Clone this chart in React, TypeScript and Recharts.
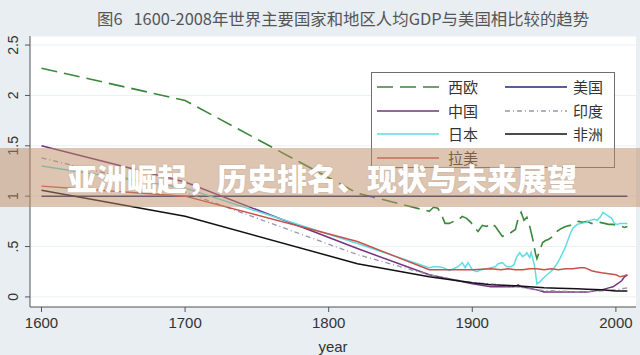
import { CartesianGrid, Legend, Line, LineChart, XAxis, YAxis } from 'recharts';

const xTicks = [1600, 1700, 1800, 1900, 2000];
const yTicks = [0, 0.5, 1, 1.5, 2, 2.5];
const yTickLabels = ['0', '.5', '1', '1.5', '2', '2.5'];

const westEuropeYears = [1600, 1700, 1820, 1870, 1873, 1876, 1879, 1881, 1884, 1887, 1890, 1893, 1896, 1899, 1902, 1904, 1907, 1910, 1913, 1916, 1918, 1921, 1924, 1927, 1930, 1932, 1934, 1936, 1938, 1940, 1942, 1944, 1945, 1947, 1949, 1951, 1953, 1956, 1959, 1962, 1965, 1968, 1971, 1974, 1977, 1980, 1983, 1986, 1989, 1992, 1995, 1998, 2001, 2004, 2006, 2008];
const westEuropeValues = [2.27, 1.95, 1.03, 0.85, 0.89, 0.88, 0.8, 0.73, 0.73, 0.75, 0.76, 0.8, 0.78, 0.74, 0.68, 0.65, 0.71, 0.7, 0.73, 0.7, 0.66, 0.6, 0.63, 0.64, 0.67, 0.78, 0.84, 0.76, 0.79, 0.7, 0.58, 0.43, 0.38, 0.46, 0.54, 0.56, 0.57, 0.6, 0.65, 0.68, 0.7, 0.71, 0.73, 0.75, 0.74, 0.75, 0.73, 0.73, 0.74, 0.73, 0.72, 0.72, 0.71, 0.7, 0.69, 0.7];

const usYears = [1600, 2008];
const usValues = [1, 1];

const chinaYears = [1600, 1700, 1820, 1870, 1880, 1890, 1900, 1913, 1920, 1929, 1932, 1934, 1938, 1945, 1950, 1955, 1960, 1965, 1970, 1975, 1980, 1985, 1990, 1995, 1998, 2001, 2004, 2006, 2008];
const chinaValues = [1.5, 1.14, 0.48, 0.22, 0.19, 0.16, 0.13, 0.1, 0.1, 0.1, 0.12, 0.1, 0.09, 0.07, 0.05, 0.05, 0.05, 0.05, 0.05, 0.05, 0.05, 0.06, 0.07, 0.09, 0.1, 0.13, 0.16, 0.2, 0.22];

const indiaYears = [1600, 1700, 1820, 1870, 1900, 1913, 1930, 1945, 1950, 1960, 1970, 1980, 1990, 2000, 2008];
const indiaValues = [1.38, 1.04, 0.42, 0.22, 0.14, 0.13, 0.1, 0.07, 0.065, 0.06, 0.05, 0.05, 0.06, 0.07, 0.09];

const japanYears = [1600, 1700, 1820, 1870, 1873, 1876, 1880, 1884, 1887, 1890, 1893, 1895, 1897, 1900, 1903, 1906, 1910, 1913, 1916, 1918, 1921, 1924, 1927, 1929, 1931, 1933, 1935, 1937, 1938, 1940, 1941, 1943, 1944, 1945, 1947, 1949, 1952, 1956, 1959, 1961, 1963, 1965, 1968, 1970, 1973, 1976, 1979, 1982, 1985, 1987, 1989, 1991, 1993, 1995, 1997, 1999, 2001, 2003, 2005, 2008];
const japanValues = [1.3, 1.08, 0.53, 0.29, 0.3, 0.3, 0.29, 0.26, 0.28, 0.3, 0.34, 0.29, 0.34, 0.27, 0.25, 0.27, 0.28, 0.29, 0.3, 0.33, 0.34, 0.3, 0.3, 0.32, 0.4, 0.44, 0.4, 0.42, 0.44, 0.39, 0.44, 0.33, 0.24, 0.13, 0.15, 0.18, 0.22, 0.27, 0.33, 0.38, 0.44, 0.5, 0.62, 0.68, 0.72, 0.73, 0.74, 0.76, 0.77, 0.76, 0.79, 0.84, 0.82, 0.8, 0.78, 0.73, 0.72, 0.73, 0.73, 0.73];

const africaYears = [1600, 1700, 1820, 1870, 1880, 1890, 1900, 1913, 1930, 1940, 1950, 1960, 1973, 1980, 1990, 2000, 2008];
const africaValues = [1.06, 0.8, 0.33, 0.2, 0.18, 0.16, 0.14, 0.12, 0.11, 0.1, 0.09, 0.085, 0.08, 0.075, 0.07, 0.06, 0.06];

const latinYears = [1600, 1700, 1820, 1870, 1880, 1890, 1900, 1913, 1920, 1925, 1930, 1935, 1940, 1945, 1950, 1955, 1960, 1965, 1970, 1975, 1978, 1980, 1983, 1986, 1990, 1995, 2000, 2003, 2006, 2008];
const latinValues = [1.1, 1.0, 0.55, 0.27, 0.27, 0.27, 0.27, 0.28, 0.27, 0.28, 0.27, 0.27, 0.28, 0.28, 0.27, 0.28, 0.27, 0.28, 0.28, 0.29, 0.29, 0.28, 0.26, 0.25, 0.24, 0.23, 0.22, 0.2, 0.21, 0.22];

const toPoints = (years: number[], values: number[]) => years.map((year, i) => ({ year, value: values[i] }));

// stata order: legend fills row by row
const series = [
  { name: '西欧', data: toPoints(westEuropeYears, westEuropeValues), color: '#3b873b', dash: '16 7', width: 1.6 },
  { name: '美国', data: toPoints(usYears, usValues), color: '#1c2a78', dash: undefined, width: 1.4 },
  { name: '中国', data: toPoints(chinaYears, chinaValues), color: '#74337f', dash: undefined, width: 1.5 },
  { name: '印度', data: toPoints(indiaYears, indiaValues), color: '#9c94ad', dash: '5 3 1 3', width: 1.3 },
  { name: '日本', data: toPoints(japanYears, japanValues), color: '#5fdde3', dash: undefined, width: 1.5 },
  { name: '非洲', data: toPoints(africaYears, africaValues), color: '#111111', dash: undefined, width: 1.5 },
  { name: '拉美', data: toPoints(latinYears, latinValues), color: '#c8504b', dash: undefined, width: 1.4 },
];

const axisFont = '"Liberation Sans", Arial, sans-serif';
const cjkFont = '"Noto Sans CJK SC", "Noto Sans", sans-serif';

const YTick = ({ y, payload }: any) => (
  <text
    x={13}
    y={y}
    transform={`rotate(-90 13 ${y})`}
    textAnchor="middle"
    dominantBaseline="central"
    fontSize={14}
    fontFamily={axisFont}
    fill="#333"
  >
    {yTickLabels[yTicks.indexOf(payload.value)]}
  </text>
);

const LegendBox = () => (
  <div
    style={{
      position: 'relative',
      width: 244,
      height: 96,
      boxSizing: 'border-box',
      border: '1px solid #6f6f6f',
      background: '#fff',
      fontFamily: cjkFont,
      fontSize: 15,
      color: '#333',
    }}
  >
    {series.map((s, i) => {
      const col = i % 2;
      const row = Math.floor(i / 2);
      const top = [14, 38, 61, 85][row];
      const lineLeft = col === 0 ? 5 : 133;
      const textLeft = col === 0 ? 76 : 201;
      return (
        <div key={s.name}>
          <svg style={{ position: 'absolute', left: lineLeft, top: top - 3 }} width={62} height={6}>
            <line x1={0} x2={62} y1={3} y2={3} stroke={s.color} strokeWidth={1.4} strokeDasharray={s.dash} />
          </svg>
          <span style={{ position: 'absolute', left: textLeft, top: top - 11, lineHeight: '22px' }}>{s.name}</span>
        </div>
      );
    })}
  </div>
);

export default function App() {
  return (
    <div
      style={{
        position: 'absolute',
        left: 0,
        top: 0,
        width: 640,
        height: 355,
        background: '#e8eef1',
        overflow: 'hidden',
      }}
    >
      <div
        style={{
          position: 'absolute',
          left: 97,
          top: 6,
          fontFamily: cjkFont,
          fontSize: 16.4,
          color: '#555',
          whiteSpace: 'pre',
        }}
      >
        {'图6   1600-2008年世界主要国家和地区人均GDP与美国相比较的趋势'}
      </div>
      <LineChart width={640} height={355} margin={{ top: 36, right: 4, left: 0, bottom: 0 }}>
        <CartesianGrid vertical={false} stroke="#eaf0f2" fill="#ffffff" fillOpacity={1} />
        <XAxis
          type="number"
          dataKey="year"
          domain={[1592, 2014]}
          ticks={xTicks}
          height={48}
          tickSize={5}
          tickMargin={5}
          stroke="#555"
          tick={{ fill: '#333', fontSize: 15, fontFamily: axisFont }}
          allowDataOverflow
          label={{ value: 'year', position: 'insideBottom', offset: 3, fill: '#333', fontSize: 15, fontFamily: axisFont }}
        />
        <YAxis
          type="number"
          domain={[-0.1, 2.59]}
          ticks={yTicks}
          width={30}
          tickSize={5}
          stroke="#555"
          tick={<YTick />}
          allowDataOverflow
        />
        {series.map((s) => (
          <Line
            key={s.name}
            data={s.data}
            dataKey="value"
            name={s.name}
            type="linear"
            stroke={s.color}
            strokeWidth={s.width}
            strokeDasharray={s.dash}
            dot={false}
            activeDot={false}
            isAnimationActive={false}
          />
        ))}
        <Legend
          layout="horizontal"
          align="center"
          verticalAlign="middle"
          content={<LegendBox />}
          wrapperStyle={{ left: 371, top: 72, width: 244, height: 96 }}
        />
      </LineChart>
      <div
        style={{
          position: 'absolute',
          left: 0,
          top: 148,
          width: 640,
          height: 59,
          background: 'rgba(190, 140, 100, 0.5)',
          boxSizing: 'border-box',
          paddingLeft: 67,
          lineHeight: '59px',
          fontFamily: cjkFont,
          fontSize: 30,
          fontWeight: 900,
          color: '#fff',
          whiteSpace: 'nowrap',
          textShadow: '0 0 2px rgba(0,0,0,0.15)',
        }}
      >
        亚洲崛起，历史排名、现状与未来展望
      </div>
    </div>
  );
}
